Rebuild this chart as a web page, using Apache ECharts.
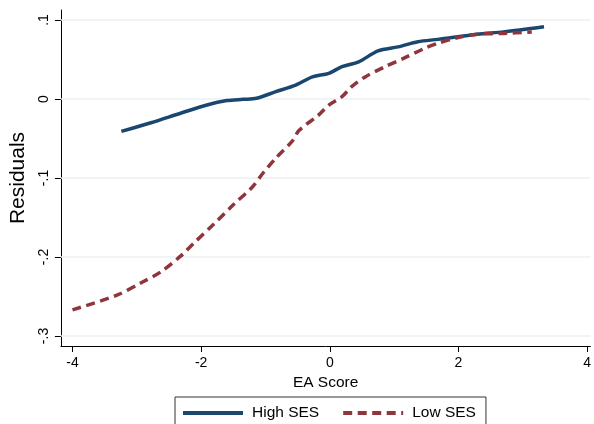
<!DOCTYPE html>
<html>
<head>
<meta charset="utf-8">
<script src="https://cdn.jsdelivr.net/npm/echarts@6/dist/echarts.min.js"></script>
<style>
  html, body { margin: 0; padding: 0; background: #fff; }
  #chart { width: 594px; height: 424px; }
</style>
</head>
<body>
<div id="chart"></div>
<script>
// EA score vs residuals, by SES group
const highX = [-3.24, -2.78, -2.32, -1.91, -1.60, -1.35, -1.14, -0.84, -0.53, -0.27, -0.015, 0.19, 0.45, 0.75, 1.06, 1.37, 1.68, 2.29, 2.70, 3.33]
const highY = [-0.041, -0.030, -0.018, -0.0076, -0.002, -0.0004, 0.0009, 0.0093, 0.0177, 0.028, 0.0325, 0.041, 0.047, 0.061, 0.066, 0.0726, 0.0755, 0.082, 0.085, 0.0915]

const lowX = [-4.0, -3.30, -2.94, -2.63, -2.32, -2.12, -1.81, -1.50, -1.20, -1.04, -0.84, -0.58, -0.48, -0.17, -0.015, 0.19, 0.34, 0.55, 0.86, 1.16, 1.47, 1.68, 1.98, 2.29, 2.70, 3.14]
const lowY = [-0.267, -0.248, -0.233, -0.219, -0.199, -0.183, -0.159, -0.134, -0.111, -0.094, -0.075, -0.053, -0.040, -0.020, -0.0076, 0.003, 0.0156, 0.028, 0.041, 0.052, 0.064, 0.0705, 0.0776, 0.082, 0.083, 0.085]

const xTicks = [-4, -2, 0, 2, 4]
const yTicks = [-0.3, -0.2, -0.1, 0, 0.1]
const yTickLabels = ['-.3', '-.2', '-.1', '0', '.1']

const font = 'Liberation Sans, Arial, sans-serif'

const chart = echarts.init(document.getElementById('chart'))

chart.setOption({
  animation: false,
  backgroundColor: '#fff',
  textStyle: { fontFamily: font },
  grid: {
    left: 60,
    right: 0,
    top: 10,
    bottom: 78
  },
  xAxis: {
    type: 'value',
    min: -4.18,
    max: 4.05,
    name: 'EA Score',
    nameLocation: 'middle',
    nameGap: 26,
    nameTextStyle: { fontSize: 15.5, color: '#000', fontFamily: font },
    axisLine: { onZero: false, lineStyle: { color: '#000', width: 1 } },
    axisTick: { show: true, length: 6, customValues: xTicks, lineStyle: { color: '#000' } },
    axisLabel: {
      customValues: xTicks,
      margin: 10,
      fontSize: 14,
      color: '#000',
      fontFamily: font
    },
    splitLine: { show: false }
  },
  yAxis: {
    type: 'value',
    min: -0.3127,
    max: 0.1127,
    name: 'Residuals',
    nameLocation: 'middle',
    nameGap: 29,
    nameTextStyle: { fontSize: 21, color: '#000', fontFamily: font },
    axisLine: { show: true, onZero: false, lineStyle: { color: '#000', width: 1 } },
    axisTick: { show: true, length: 6, customValues: yTicks, lineStyle: { color: '#000' } },
    axisLabel: {
      customValues: yTicks,
      rotate: 90,
      margin: 10,
      fontSize: 14,
      color: '#000',
      fontFamily: font,
      formatter: function (v) {
        const i = yTicks.findIndex(t => Math.abs(t - v) < 1e-6)
        return i >= 0 ? yTickLabels[i] : ''
      }
    },
    splitLine: { show: false }
  },
  legend: {
    left: 175,
    top: 397,
    orient: 'horizontal',
    borderColor: '#333',
    borderWidth: 1,
    padding: [8, 10, 8, 6],
    itemWidth: 60,
    itemHeight: 14,
    itemGap: 22,
    itemStyle: { opacity: 0 },
    lineStyle: { width: 4 },
    textStyle: { fontSize: 15.5, color: '#000', fontFamily: font, padding: [0, 0, 0, 4] },
    data: ['High SES', 'Low SES']
  },
  series: [
    {
      name: 'High SES',
      type: 'line',
      showSymbol: false,
      symbol: 'none',
      smooth: 0.3,
      z: 3,
      data: highX.map((x, i) => [x, highY[i]]),
      lineStyle: { color: '#1a476f', width: 3.5 },
      itemStyle: { color: '#1a476f' },
      markLine: {
        silent: true,
        symbol: 'none',
        z: 1,
        label: { show: false },
        lineStyle: { color: '#eaf2f3', width: 1.5, type: 'solid' },
        data: yTicks.map(v => ({ yAxis: v }))
      }
    },
    {
      name: 'Low SES',
      type: 'line',
      showSymbol: false,
      symbol: 'none',
      smooth: 0.3,
      z: 4,
      data: lowX.map((x, i) => [x, lowY[i]]),
      lineStyle: { color: '#90353b', width: 3.5, type: [9, 5.5] },
      itemStyle: { color: '#90353b' }
    }
  ]
})
</script>
</body>
</html>
